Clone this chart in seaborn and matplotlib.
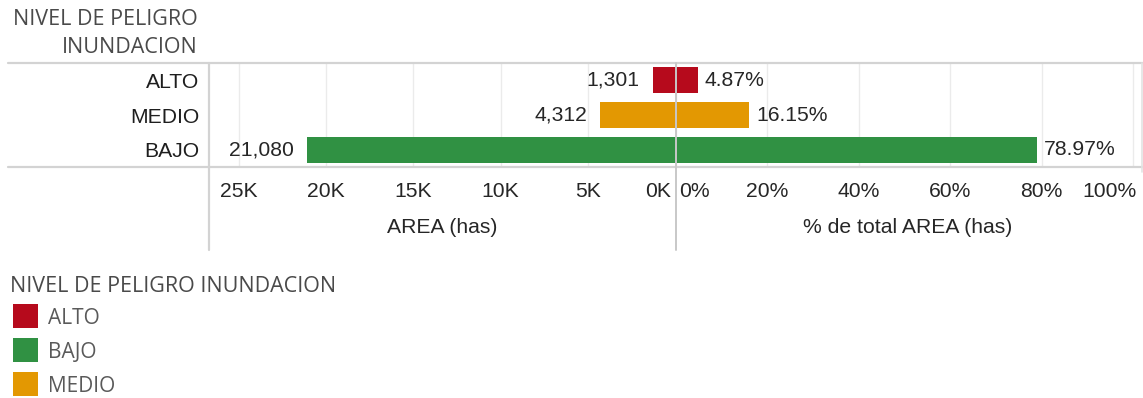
import matplotlib
matplotlib.use("Agg")
import matplotlib.pyplot as plt
import seaborn as sns
import pandas as pd
from matplotlib.lines import Line2D
from matplotlib.patches import Rectangle
from matplotlib.transforms import offset_copy, ScaledTranslation

# Flood hazard levels and their area (hectares) / share of total area
niveles = ["ALTO", "MEDIO", "BAJO"]
area_has = [1301, 4312, 21080]
pct_total = [4.87, 16.15, 78.97]
colores = {"ALTO": "#b60a1c", "MEDIO": "#e39802", "BAJO": "#309143"}
legend_order = ["ALTO", "BAJO", "MEDIO"]

area_ticks = [25000, 20000, 15000, 10000, 5000, 0]
area_ticklabels = ["25K", "20K", "15K", "10K", "5K", "0K"]
pct_ticks = [0, 20, 40, 60, 80, 100]
pct_ticklabels = ["0%", "20%", "40%", "60%", "80%", "100%"]

df = pd.DataFrame({"nivel": niveles, "area": area_has, "pct": pct_total})

sns.set_theme(style="white")
plt.rcParams["font.family"] = ["Liberation Sans", "DejaVu Sans"]

W, H = 1143, 398
fig = plt.figure(figsize=(W / 100, H / 100), dpi=100, facecolor="white")


def fx(px):
    return px / W


def fy(py):
    return 1 - py / H


top, bot = 63, 167
xl0, xc, xr = 209, 675.5, 1140.5
axL = fig.add_axes([fx(xl0), fy(bot), fx(xc - xl0), (bot - top) / H])
axR = fig.add_axes([fx(xc), fy(bot), fx(xr - xc), (bot - top) / H])

TXT = "#262626"
GRID = "#ebebeb"
FS = 15.2

sns.barplot(data=df, y="nivel", x="area", hue="nivel", palette=colores,
            order=niveles, hue_order=niveles, width=0.75, saturation=1,
            linewidth=0, legend=False, ax=axL)
sns.barplot(data=df, y="nivel", x="pct", hue="nivel", palette=colores,
            order=niveles, hue_order=niveles, width=0.75, saturation=1,
            linewidth=0, legend=False, ax=axR)

axL.set_xlim(26690, 0)
axR.set_xlim(0, 101.6)
for ax in (axL, axR):
    ax.set_ylim(2.5, -0.5)
    for s in ax.spines.values():
        s.set_visible(False)
    ax.grid(axis="x", color=GRID, lw=1)
    ax.set_axisbelow(True)
    ax.set_ylabel("")
    ax.tick_params(axis="x", length=8, width=1, color=GRID, pad=3,
                   labelsize=FS, labelcolor=TXT)

axL.set_xticks(area_ticks, area_ticklabels)
axR.set_xticks(pct_ticks, pct_ticklabels)
axL.tick_params(axis="y", length=0, pad=7, labelsize=FS, labelcolor="#1e1e1e")
axR.tick_params(axis="y", left=False, labelleft=False)


def nudge(tick, ha, dx_px):
    lab = tick.label1
    lab.set_ha(ha)
    lab.set_transform(lab.get_transform()
                      + ScaledTranslation(dx_px / 100, 0, fig.dpi_scale_trans))


# keep the edge labels inside their own pane
for tick, text in zip(axL.xaxis.get_major_ticks(), area_ticklabels):
    if text == "0K":
        nudge(tick, "right", -4)
for tick, text in zip(axR.xaxis.get_major_ticks(), pct_ticklabels):
    if text == "0%":
        nudge(tick, "left", 4)
    elif text == "100%":
        nudge(tick, "right", 3)

axL.set_xlabel("AREA (has)", fontsize=FS, color=TXT, labelpad=12)
axR.set_xlabel("% de total AREA (has)", fontsize=FS, color=TXT, labelpad=12)

# value labels beside each bar
tl = offset_copy(axL.transData, fig=fig, x=-13, y=0, units="dots")
tr = offset_copy(axR.transData, fig=fig, x=7, y=0, units="dots")
for i, (a, p) in enumerate(zip(area_has, pct_total)):
    axL.text(a, i, f"{a:,}", ha="right", va="center", fontsize=FS,
             color=TXT, transform=tl)
    axR.text(p, i, f"{p:.2f}%", ha="left", va="center", fontsize=FS,
             color=TXT, transform=tr)

# pane frame lines
LINE = "#d3d3d3"


def hline(y, x0, x1, c=LINE):
    fig.add_artist(Line2D([fx(x0), fx(x1)], [fy(y), fy(y)], color=c, lw=1.6))


def vline(x, y0, y1, c=LINE, lw=1.6):
    fig.add_artist(Line2D([fx(x), fx(x)], [fy(y0), fy(y1)], color=c, lw=lw))


hline(top, 8, W)
hline(bot, 8, W)
vline(xl0, top, 250)
vline(xc, top, 250, c="#c8c8c8", lw=1.4)
vline(1141.5, top, 172, c="#e3e3e3", lw=1.2)

# row header
HDR = dict(family=["Open Sans", "DejaVu Sans"], fontsize=15.5, color="#4a4a4a")
fig.text(fx(198), fy(19.5), "NIVEL DE PELIGRO", ha="right", va="center", **HDR)
fig.text(fx(198), fy(47.5), "INUNDACION", ha="right", va="center", **HDR)

# colour legend
fig.text(fx(10), fy(287), "NIVEL DE PELIGRO INUNDACION", ha="left",
         va="center", **HDR)
for k, nivel in enumerate(legend_order):
    y0 = 304 + 34 * k
    fig.add_artist(Rectangle((fx(13), fy(y0 + 24)), fx(25), 24 / H,
                             facecolor=colores[nivel], edgecolor="none"))
    fig.text(fx(48), fy(y0 + 15), nivel, ha="left", va="center",
             family=["Open Sans", "DejaVu Sans"], fontsize=15,
             color="#5a5a5a")

fig.savefig("out.png", dpi=100, facecolor="white")
